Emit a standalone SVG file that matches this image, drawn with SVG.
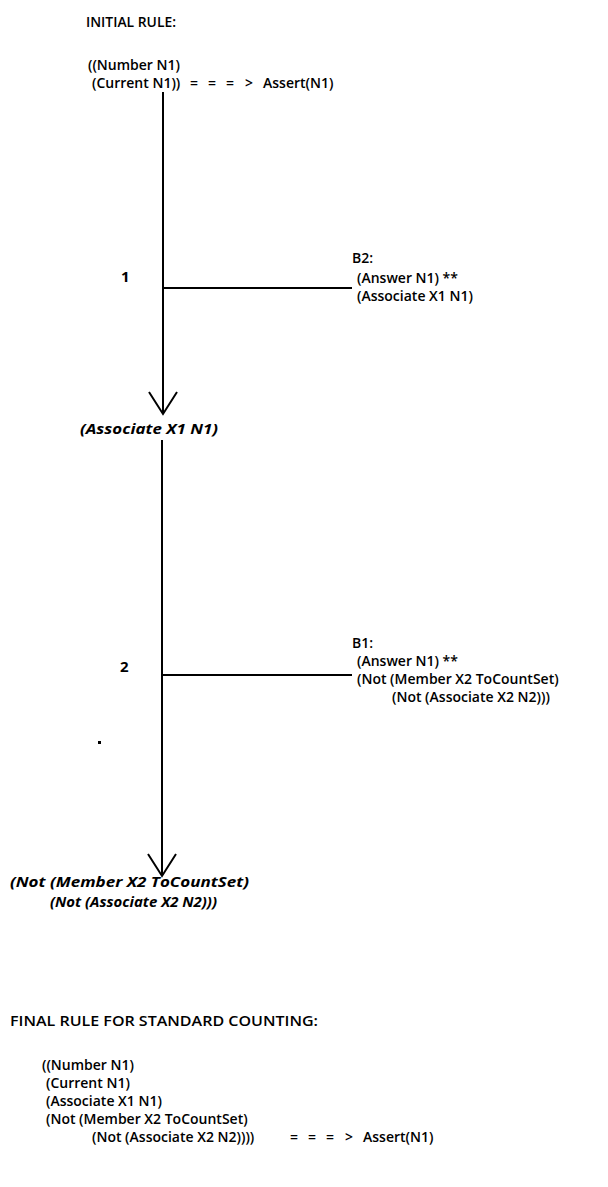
<svg xmlns="http://www.w3.org/2000/svg" width="608" height="1187" viewBox="0 0 608 1187">
<style>
text{font-family:"Open Sans","Liberation Sans",sans-serif;font-size:14px;font-weight:600;fill:#000}
.h{font-size:14.5px}
.n{font-size:15px;font-weight:700}
.i{font-style:italic;font-weight:700;font-size:15px}
.ln{stroke:#000;stroke-width:2;fill:none}
</style>
<rect width="608" height="1187" fill="#fff"/>
<g id="initial-rule">
<text class="h" x="86" y="27" textLength="90" lengthAdjust="spacingAndGlyphs">INITIAL RULE:</text>
<text x="88" y="70">((Number N1)</text>
<text x="92" y="88">(Current N1))<tspan x="190">=</tspan><tspan x="208">=</tspan><tspan x="226">=</tspan><tspan x="245">&gt;</tspan><tspan x="263">Assert(N1)</tspan></text>
</g>
<g id="b2">
<text x="352" y="263">B2:</text>
<text x="357" y="283">(Answer N1) **</text>
<text x="357" y="301">(Associate X1 N1)</text>
</g>
<g id="label1"><text class="n" x="121" y="282">1</text></g>
<g id="associate"><text class="i" x="80" y="434" textLength="138" lengthAdjust="spacingAndGlyphs">(Associate X1 N1)</text></g>
<g id="b1">
<text x="352" y="648">B1:</text>
<text x="357" y="666">(Answer N1) **</text>
<text x="357" y="684">(Not (Member X2 ToCountSet)</text>
<text x="392" y="702">(Not (Associate X2 N2)))</text>
</g>
<g id="label2"><text class="n" x="120" y="672">2</text></g>
<g id="not-member">
<text class="i" x="10" y="887" textLength="239" lengthAdjust="spacingAndGlyphs">(Not (Member X2 ToCountSet)</text>
<text class="i" x="50" y="907" textLength="167" lengthAdjust="spacingAndGlyphs">(Not (Associate X2 N2)))</text>
</g>
<g id="final-rule">
<text class="h" x="10" y="1026" textLength="308" lengthAdjust="spacingAndGlyphs">FINAL RULE FOR STANDARD COUNTING:</text>
<text x="42" y="1070">((Number N1)</text>
<text x="46" y="1088">(Current N1)</text>
<text x="46" y="1106">(Associate X1 N1)</text>
<text x="46" y="1124">(Not (Member X2 ToCountSet)</text>
<text x="92" y="1142">(Not (Associate X2 N2))))<tspan x="290">=</tspan><tspan x="308">=</tspan><tspan x="326">=</tspan><tspan x="345">&gt;</tspan><tspan x="363">Assert(N1)</tspan></text>
</g>
<g id="connectors">
<path class="ln" d="M163 92 V414 M149 392 L163 414 L177 392"/>
<path class="ln" d="M163 288 H352"/>
<path class="ln" d="M162 440 V876 M148 854 L162 876 L176 854"/>
<path class="ln" d="M162 675 H352"/>
<rect x="98" y="741" width="3" height="3" fill="#000"/>
</g>
</svg>
